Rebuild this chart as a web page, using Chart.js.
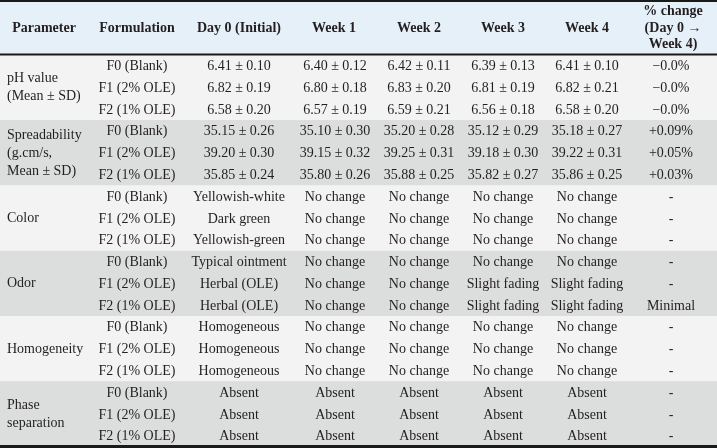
<!DOCTYPE html>
<html>
<head>
<meta charset="utf-8">
<script src="https://cdn.jsdelivr.net/npm/chart.js@4"></script>
<style>
  body { margin: 0; background: #ffffff; }
  #wrap { width: 717px; height: 448px; position: relative; }
</style>
</head>
<body>
<div id="wrap"><canvas id="stabilityTable"></canvas></div>
<script>
// ===== table data =====
const headers = ['Parameter', 'Formulation', 'Day 0 (Initial)', 'Week 1', 'Week 2', 'Week 3', 'Week 4', ['% change', '(Day 0 \u2192', 'Week 4)']];
const parameters = [
    ['pH value', '(Mean \u00b1 SD)'],
    ['Spreadability', '(g.cm/s,', 'Mean \u00b1 SD)'],
    ['Color'],
    ['Odor'],
    ['Homogeneity'],
    ['Phase', 'separation']
];
const formulations = ['F0 (Blank)', 'F1 (2% OLE)', 'F2 (1% OLE)'];

const day0 = [
    '6.41 \u00b1 0.10', '6.82 \u00b1 0.19', '6.58 \u00b1 0.20',
    '35.15 \u00b1 0.26', '39.20 \u00b1 0.30', '35.85 \u00b1 0.24',
    'Yellowish-white', 'Dark green', 'Yellowish-green',
    'Typical ointment', 'Herbal (OLE)', 'Herbal (OLE)',
    'Homogeneous', 'Homogeneous', 'Homogeneous',
    'Absent', 'Absent', 'Absent'
];
const week1 = [
    '6.40 \u00b1 0.12', '6.80 \u00b1 0.18', '6.57 \u00b1 0.19',
    '35.10 \u00b1 0.30', '39.15 \u00b1 0.32', '35.80 \u00b1 0.26',
    'No change', 'No change', 'No change',
    'No change', 'No change', 'No change',
    'No change', 'No change', 'No change',
    'Absent', 'Absent', 'Absent'
];
const week2 = [
    '6.42 \u00b1 0.11', '6.83 \u00b1 0.20', '6.59 \u00b1 0.21',
    '35.20 \u00b1 0.28', '39.25 \u00b1 0.31', '35.88 \u00b1 0.25',
    'No change', 'No change', 'No change',
    'No change', 'No change', 'No change',
    'No change', 'No change', 'No change',
    'Absent', 'Absent', 'Absent'
];
const week3 = [
    '6.39 \u00b1 0.13', '6.81 \u00b1 0.19', '6.56 \u00b1 0.18',
    '35.12 \u00b1 0.29', '39.18 \u00b1 0.30', '35.82 \u00b1 0.27',
    'No change', 'No change', 'No change',
    'No change', 'Slight fading', 'Slight fading',
    'No change', 'No change', 'No change',
    'Absent', 'Absent', 'Absent'
];
const week4 = [
    '6.41 \u00b1 0.10', '6.82 \u00b1 0.21', '6.58 \u00b1 0.20',
    '35.18 \u00b1 0.27', '39.22 \u00b1 0.31', '35.86 \u00b1 0.25',
    'No change', 'No change', 'No change',
    'No change', 'Slight fading', 'Slight fading',
    'No change', 'No change', 'No change',
    'Absent', 'Absent', 'Absent'
];
const pctChange = [
    '\u22120.0%', '\u22120.0%', '\u22120.0%',
    '+0.09%', '+0.05%', '+0.03%',
    '-', '-', '-',
    '-', '-', 'Minimal',
    '-', '-', '-',
    '-', '-', '-'
];

// one label per table row (parameter group x formulation)
const rowLabels = day0.map((_, i) => formulations[i % 3]);
const valueColumns = [rowLabels, day0, week1, week2, week3, week4, pctChange];

// ===== layout / style =====
const W = 717;
const headerCenters = [44, 137, 239, 334, 419, 503, 587, 673];
const cellCenters = [137, 239, 335, 419, 503, 587, 671];
const lightRow = '#f3f3f3';
const darkRow = '#dcdddd';
const headerBg = '#e6f0f9';
const ink = '#231f20';
const serif = '"Liberation Serif", "Times New Roman", serif';

const rowColors = rowLabels.map((_, i) => (Math.floor(i / 3) % 2 === 0 ? lightRow : darkRow));

const tablePlugin = {
    id: 'tableText',
    beforeDatasetsDraw(chart) {
        const ctx = chart.ctx;
        ctx.save();
        ctx.fillStyle = headerBg;
        ctx.fillRect(0, 0, W, chart.chartArea.top);
        ctx.restore();
    },
    afterDatasetsDraw(chart) {
        const ctx = chart.ctx;
        const x = chart.scales.x;
        const y = chart.scales.y;
        ctx.save();

        // rules
        ctx.fillStyle = '#1a1a1a';
        ctx.fillRect(0, 0, W, 2);
        ctx.fillRect(0, chart.chartArea.top - 1.5, W, 2);
        ctx.fillRect(0, chart.chartArea.bottom - 2, W, 3);

        // header
        ctx.fillStyle = ink;
        ctx.font = 'bold 14px ' + serif;
        ctx.textAlign = 'center';
        ctx.textBaseline = 'middle';
        headers.forEach((h, j) => {
            const lines = Array.isArray(h) ? h : [h];
            lines.forEach((line, k) => {
                const cy = 28 + (k - (lines.length - 1) / 2) * 16.5;
                ctx.fillText(line, x.getPixelForValue(headerCenters[j]), cy);
            });
        });

        // parameter names (left aligned, centred on their group)
        ctx.font = '14px ' + serif;
        ctx.textAlign = 'left';
        parameters.forEach((p, g) => {
            const cy = y.getPixelForValue(g * 3 + 1);
            p.forEach((line, k) => {
                ctx.fillText(line, 7, cy + (k - (p.length - 1) / 2) * 18);
            });
        });

        // body cells
        ctx.textAlign = 'center';
        valueColumns.forEach((col, j) => {
            col.forEach((txt, i) => {
                ctx.fillText(txt, x.getPixelForValue(cellCenters[j]), y.getPixelForValue(i) + 0.5);
            });
        });
        ctx.restore();
    }
};

new Chart(document.getElementById('stabilityTable').getContext('2d'), {
    type: 'bar',
    data: {
        labels: rowLabels.map((r, i) => i),
        datasets: [{
            data: rowLabels.map(() => [0, W]),
            backgroundColor: rowColors,
            borderWidth: 0,
            borderSkipped: false,
            barPercentage: 1,
            categoryPercentage: 1
        }]
    },
    options: {
        indexAxis: 'y',
        responsive: true,
        maintainAspectRatio: false,
        animation: false,
        events: [],
        layout: { padding: { top: 55, bottom: 1, left: 0, right: 0 } },
        plugins: {
            legend: { display: false },
            title: { display: false },
            tooltip: { enabled: false }
        },
        scales: {
            x: { type: 'linear', min: 0, max: W, display: false },
            y: { type: 'category', display: false, offset: true }
        }
    },
    plugins: [tablePlugin]
});
</script>
</body>
</html>
